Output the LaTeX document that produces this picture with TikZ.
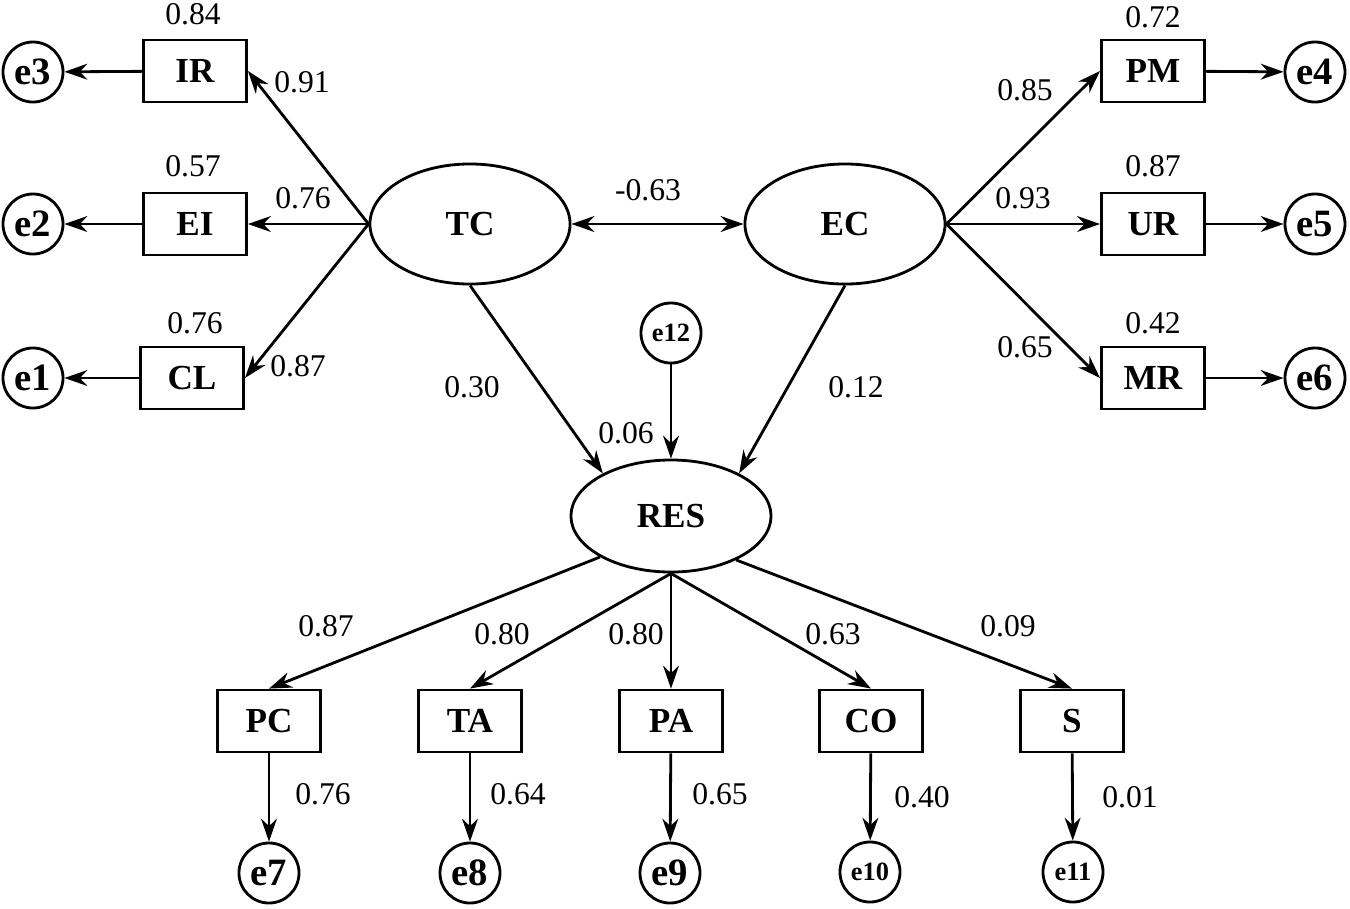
\documentclass[tikz,border=0pt]{standalone}
\usepackage{fontspec}
\setmainfont{Liberation Serif}
\usetikzlibrary{arrows.meta,shapes.geometric}
\begin{document}
\begin{tikzpicture}[x=0.01cm,y=-0.01cm]
\tikzset{
	lat/.style={ellipse, draw=black, line width=0.8pt, minimum width=2cm, minimum height=1.2cm, font=\fontsize{10}{12}\selectfont\bfseries},
	obs/.style={rectangle, draw=black, line width=0.8pt, minimum width=1.03cm, minimum height=0.62cm, font=\fontsize{10}{12}\selectfont\bfseries},
	err/.style={circle, draw=black, line width=0.8pt, minimum size=0.6cm, inner sep=0pt, font=\fontsize{11}{12}\selectfont\bfseries},
	errs/.style={err, font=\fontsize{7.5}{8}\selectfont\bfseries},
	w/.style={font=\fontsize{9}{11}\selectfont},
	p/.style={-{Stealth[length=6.5pt,width=4.5pt]}, line width=0.8pt}
}
\useasboundingbox (0,0) rectangle (1350,908);

% TC
\node[lat] (TC) at(470,224) {TC};
\node[obs] (IR) at(195,71)  {IR};
\node[obs] (EI) at(195,224) {EI};
\node[obs] (CL) at(192,378) {CL};
\node[err] (e3) at(33,72)  {e3};
\node[err] (e2) at(33,224) {e2};
\node[err] (e1) at(33,378) {e1};

% EC
\node[lat] (EC) at(845,224) {EC};
\node[obs] (PM) at(1153,71)  {PM};
\node[obs] (UR) at(1153,224) {UR};
\node[obs] (MR) at(1153,378) {MR};
\node[err] (e4) at(1315,72)  {e4};
\node[err] (e5) at(1315,224) {e5};
\node[err] (e6) at(1315,378) {e6};

% RES
\node[lat, minimum height=1.12cm] (RES) at(671,516) {RES};
\node[errs] (e12) at(671,333) {e12};
\node[obs] (PC) at(269,721)  {PC};
\node[obs] (TA) at(470,721)  {TA};
\node[obs] (PA) at(671,721)  {PA};
\node[obs] (CO) at(871,721)  {CO};
\node[obs] (S)  at(1072,721) {S};
\node[err] (e7) at(269,873) {e7};
\node[err] (e8) at(470,873) {e8};
\node[err] (e9) at(670,873) {e9};
\node[errs] (e10) at(870,872) {e10};
\node[errs] (e11) at(1073,872) {e11};

% TC -- Indikatoren
\draw[p] (TC.west) -- (IR.east);
\draw[p] (TC.west) -- (EI.east);
\draw[p] (TC.west) -- (CL.east);
\draw[p] (IR) -- (e3);
\draw[p] (EI) -- (e2);
\draw[p] (CL) -- (e1);

% EC -- Indikatoren
\draw[p] (EC.east) -- (PM.west);
\draw[p] (EC.east) -- (UR.west);
\draw[p] (EC.east) -- (MR.west);
\draw[p] (PM) -- (e4);
\draw[p] (UR) -- (e5);
\draw[p] (MR) -- (e6);

% Korrelation und Pfade
\draw[{Stealth[length=6.5pt,width=4.5pt]}-{Stealth[length=6.5pt,width=4.5pt]}, line width=0.8pt] (TC) -- (EC);
\draw[p] (TC.south) -- (RES.148);
\draw[p] (EC.south) -- (RES.32);
\draw[p] (e12) -- (RES);

% RES -- Indikatoren
\draw[p] (RES.210) -- (PC.north);
\draw[p] (RES.south) -- (TA.north);
\draw[p] (RES.south) -- (PA.north);
\draw[p] (RES.south) -- (CO.north);
\draw[p] (RES.326) -- (S.north);
\draw[p] (PC) -- (e7);
\draw[p] (TA) -- (e8);
\draw[p] (PA) -- (e9);
\draw[p] (CO) -- (e10);
\draw[p] (S) -- (e11);

% Werte
\node[w] (r3) at(193,14)  {0.84};
\node[w] (r2) at(193,166) {0.57};
\node[w] (r1) at(195,323) {0.76};
\node[w] (l3) at(302,82)  {0.91};
\node[w] (l2) at(303,198) {0.76};
\node[w] (l1) at(298,366) {0.87};
\node[w] (r4) at(1153,17)  {0.72};
\node[w] (r5) at(1153,166) {0.87};
\node[w] (r6) at(1153,323) {0.42};
\node[w] (l4) at(1025,90)  {0.85};
\node[w] (l5) at(1023,198) {0.93};
\node[w] (l6) at(1025,347) {0.65};
\node[w] (cor) at(648,190) {-0.63};
\node[w] (b1) at(472,387) {0.30};
\node[w] (b2) at(626,433) {0.06};
\node[w] (b3) at(856,387) {0.12};
\node[w] (l7)  at(326,626)  {0.87};
\node[w] (l8)  at(502,634)  {0.80};
\node[w] (l9)  at(636,634)  {0.80};
\node[w] (l10) at(833,634)  {0.63};
\node[w] (l11) at(1008,626) {0.09};
\node[w] (r7)  at(323,794)  {0.76};
\node[w] (r8)  at(518,794)  {0.64};
\node[w] (r9)  at(720,794)  {0.65};
\node[w] (r10) at(922,797)  {0.40};
\node[w] (r11) at(1130,797) {0.01};
\end{tikzpicture}
\end{document}
